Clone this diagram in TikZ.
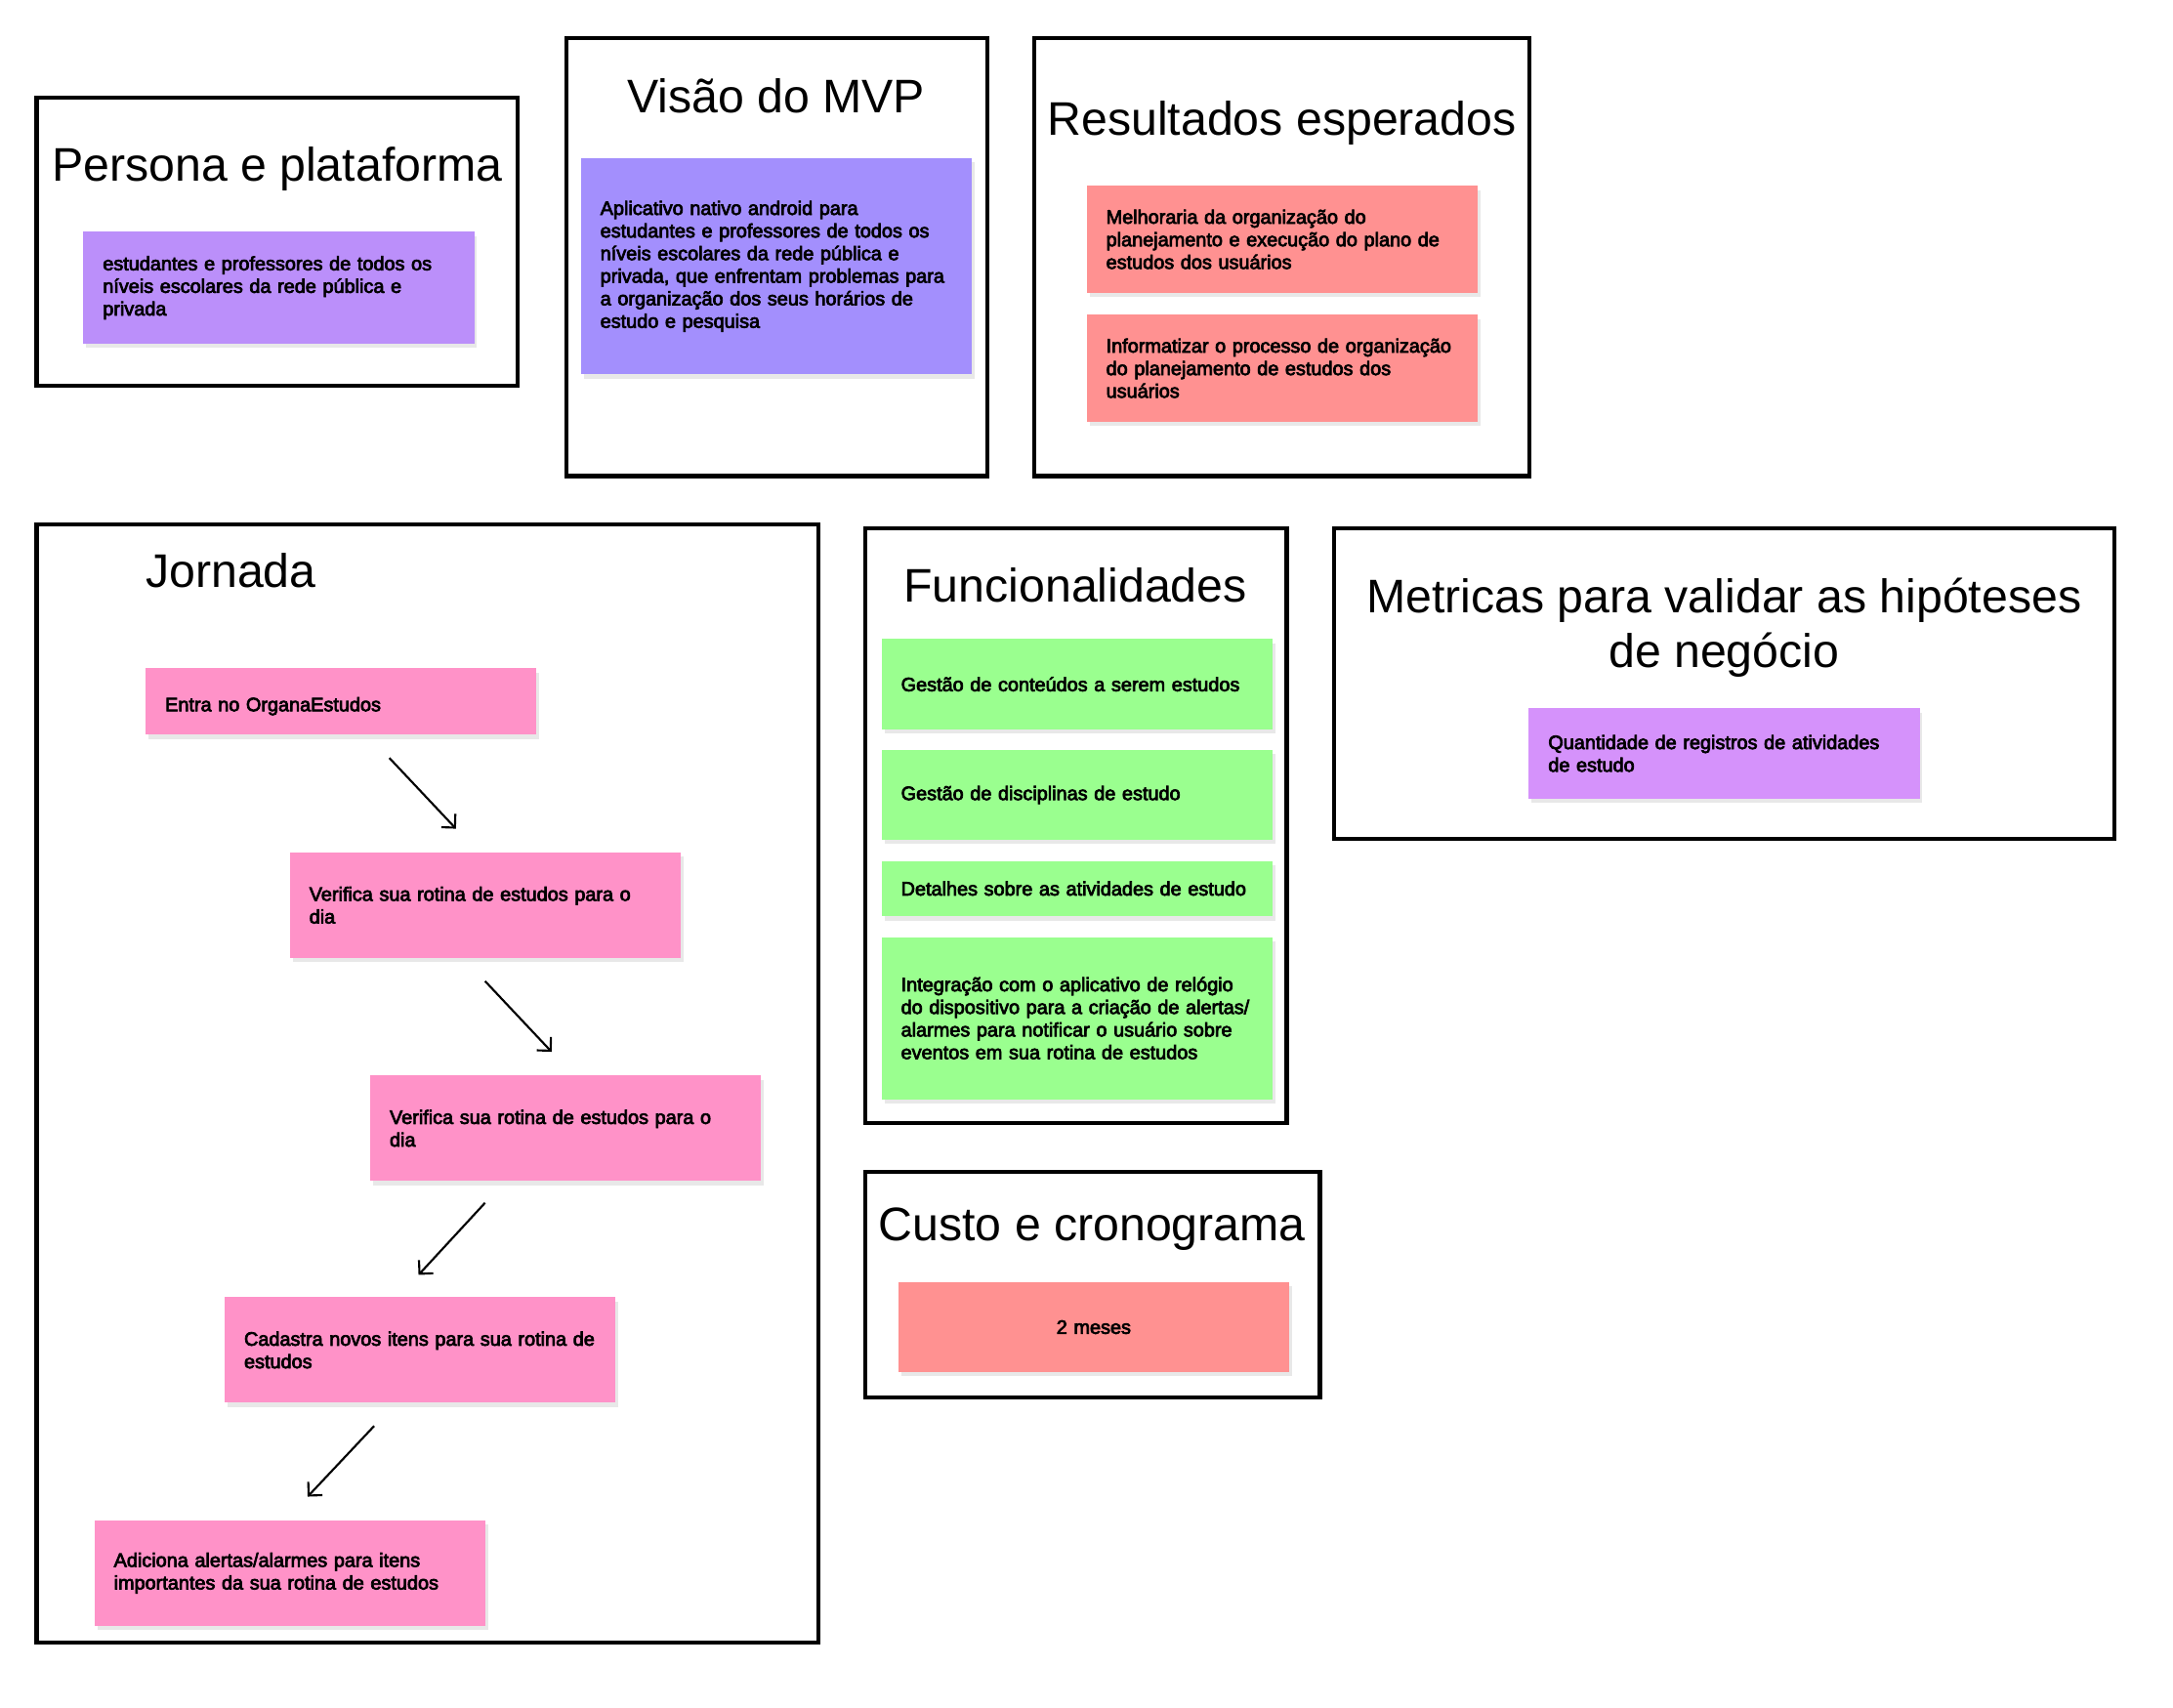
\documentclass[tikz,border=0pt]{standalone}
\usepackage{fontspec}
\setmainfont{Liberation Sans}
\newfontfamily\notefont[FakeBold=3.5]{Liberation Sans}
\usetikzlibrary{arrows.meta,shadows}

\definecolor{lilas}{RGB}{187,143,250}
\definecolor{roxo}{RGB}{163,143,253}
\definecolor{salmao}{RGB}{255,145,145}
\definecolor{rosa}{RGB}{255,146,200}
\definecolor{verde}{RGB}{154,255,143}
\definecolor{violeta}{RGB}{213,146,251}

\tikzset{
  quadro/.style={draw=black, line width=3pt, anchor=north west, inner sep=0pt, outer sep=0pt},
  titulo/.style={font=\fontsize{34}{40}\selectfont, align=center, inner sep=0pt},
  nota/.style={anchor=north west, inner xsep=14pt, inner ysep=0pt, text width=254pt,
    align=left, font=\notefont\fontsize{14}{16.3}\selectfont,
    drop shadow={shadow xshift=2pt, shadow yshift=-3pt, opacity=0.18}},
  passo/.style={line width=1.5pt, -{Straight Barb[length=7pt,width=14pt]}}
}

\begin{document}
\begin{tikzpicture}[x=1pt,y=-1pt]
\useasboundingbox[fill=white] (0,0) rectangle (1568,1232);

% quadros
\node[quadro, minimum width=347pt, minimum height=208pt] (persona) at (26.5,70.5) {};
\node[quadro, minimum width=304pt, minimum height=316pt] (visao) at (408.5,27.5) {};
\node[quadro, minimum width=357pt, minimum height=316pt] (result) at (746.5,27.5) {};
\node[quadro, minimum width=564pt, minimum height=807pt] (jornada) at (26.5,378.5) {};
\node[quadro, minimum width=304pt, minimum height=429pt] (funcao) at (624.5,381.5) {};
\node[quadro, minimum width=563pt, minimum height=224pt] (metric) at (962.5,381.5) {};
\node[quadro, minimum width=328pt, minimum height=163pt] (custo) at (624.5,845.5) {};

% titulos
\node[titulo] (tpersona) at (200,122) {Persona e plataforma};
\node[titulo] (tvisao) at (560,69) {Visão do MVP};
\node[titulo] (tresult) at (925,89) {Resultados esperados};
\node[titulo, anchor=west] (tjornada) at (105,412) {Jornada};
\node[titulo] (tfuncao) at (776,422) {Funcionalidades};
\node[titulo] (tmetric) at (1244,453) {Metricas para validar as hipóteses\\de negócio};
\node[titulo] (tcusto) at (788,887) {Custo e cronograma};

% notas
\node[nota, fill=lilas, minimum height=81pt] (p1) at (60,167)
  {estudantes e professores de todos os\\níveis escolares da rede pública e\\privada};
\node[nota, fill=roxo, minimum height=156pt] (v1) at (419,114)
  {Aplicativo nativo android para\\estudantes e professores de todos os\\níveis escolares da rede pública e\\privada, que enfrentam problemas para\\a organização dos seus horários de\\estudo e pesquisa};
\node[nota, fill=salmao, minimum height=77pt] (r1) at (784,134)
  {Melhoraria da organização do\\planejamento e execução do plano de\\estudos dos usuários};
\node[nota, fill=salmao, minimum height=77pt] (r2) at (784,227)
  {Informatizar o processo de organização\\do planejamento de estudos dos\\usuários};

\node[nota, fill=rosa, minimum height=48pt, text height=17pt] (j1) at (105,482) {Entra no OrganaEstudos};
\node[nota, fill=rosa, minimum height=76pt] (j2) at (209,615) {Verifica sua rotina de estudos para o\\dia};
\node[nota, fill=rosa, minimum height=76pt] (j3) at (267,776) {Verifica sua rotina de estudos para o\\dia};
\node[nota, fill=rosa, minimum height=76pt] (j4) at (162,936) {Cadastra novos itens para sua rotina de\\estudos};
\node[nota, fill=rosa, minimum height=76pt] (j5) at (68,1097) {Adiciona alertas/alarmes para itens\\importantes da sua rotina de estudos};

\node[nota, fill=verde, minimum height=65pt] (f1) at (636,461) {Gestão de conteúdos a serem estudos};
\node[nota, fill=verde, minimum height=65pt] (f2) at (636,541) {Gestão de disciplinas de estudo};
\node[nota, fill=verde, minimum height=40pt] (f3) at (636,621) {Detalhes sobre as atividades de estudo};
\node[nota, fill=verde, minimum height=117pt] (f4) at (636,676)
  {Integração com o aplicativo de relógio\\do dispositivo para a criação de alertas/\\alarmes para notificar o usuário sobre\\eventos em sua rotina de estudos};

\node[nota, fill=violeta, minimum height=65pt] (m1) at (1103,511) {Quantidade de registros de atividades\\de estudo};
\node[nota, fill=salmao, minimum height=65pt, align=center] (c1) at (648,925) {2 meses};

% setas da jornada
\coordinate (s1) at (281,547); \coordinate (e1) at (329,598);
\coordinate (s2) at (350,708); \coordinate (e2) at (398,759);
\coordinate (s3) at (350,868); \coordinate (e3) at (302,920);
\coordinate (s4) at (270,1029); \coordinate (e4) at (222,1080);
\foreach \i in {1,...,4}
  \draw[passo] (s\i) -- (e\i);
\end{tikzpicture}
\end{document}
